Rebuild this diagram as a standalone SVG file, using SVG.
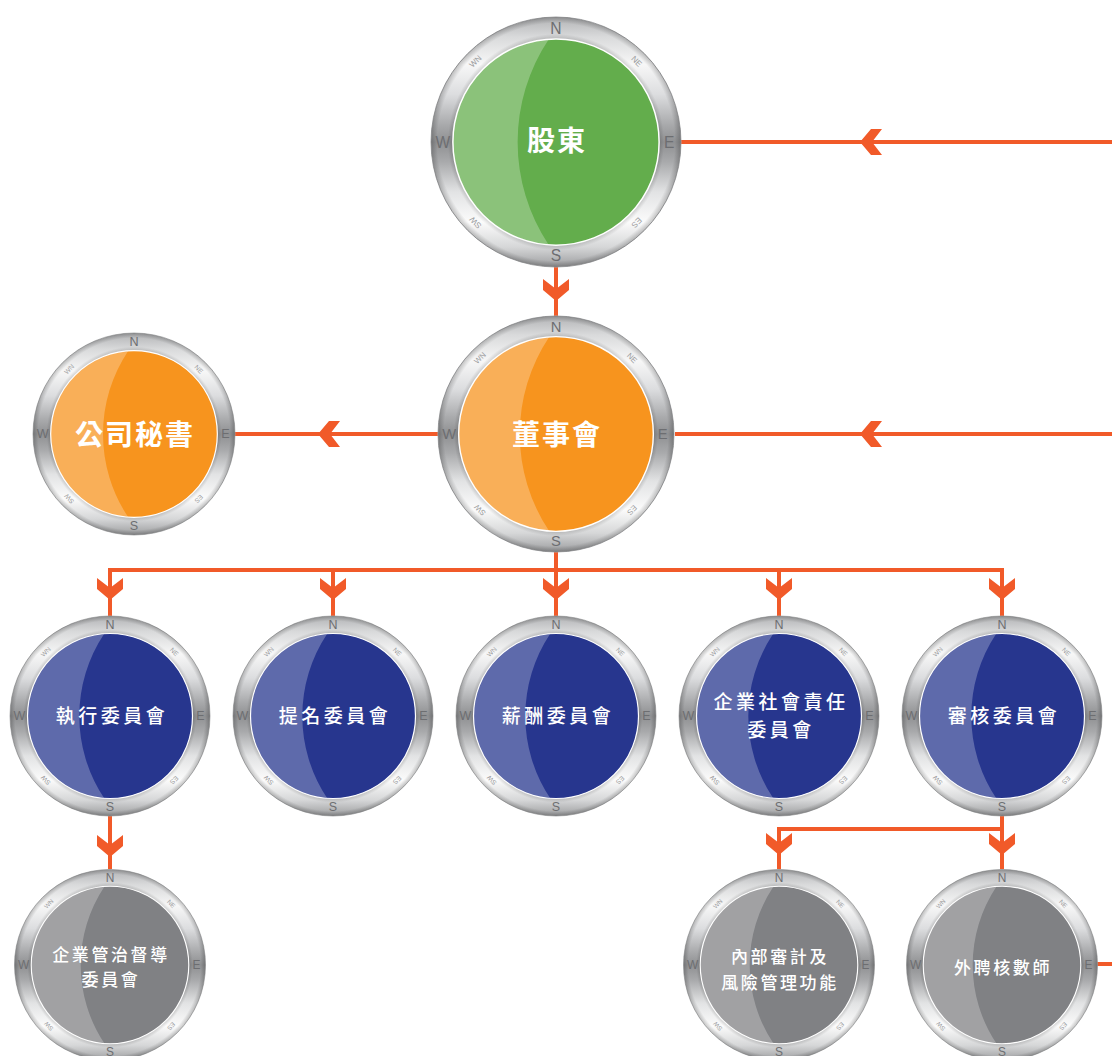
<svg xmlns="http://www.w3.org/2000/svg" xmlns:xlink="http://www.w3.org/1999/xlink" width="1112" height="1056" viewBox="0 0 1112 1056">
  <style>
    .lbl { fill: #ffffff; font-family: "Noto Sans CJK TC", "Noto Sans CJK SC", sans-serif; text-anchor: middle; dominant-baseline: central; }
    .big { font-size: 28px; font-weight: 700; letter-spacing: 2px; }
    .mid { font-size: 19px; font-weight: 500; letter-spacing: 3.5px; }
    .sm { font-size: 17px; font-weight: 500; letter-spacing: 2.6px; }
    .pt { font-family: "Liberation Sans", "Open Sans", sans-serif; font-size: 12.5px; fill: #6d6e71; text-anchor: middle; dominant-baseline: central; }
    .pt2 { font-family: "Liberation Sans", "Open Sans", sans-serif; font-size: 6.5px; fill: #9a9b9d; text-anchor: middle; dominant-baseline: central; }
    .wire { fill: none; stroke: #f15a29; stroke-width: 4; }
    .head { fill: #f15a29; }
  </style>
  <defs>
    <linearGradient id="metal" x1="0" y1="0" x2="0" y2="1">
      <stop offset="0" stop-color="#b2b3b5"/>
      <stop offset="0.08" stop-color="#d9dadb"/>
      <stop offset="0.19" stop-color="#f7f7f7"/>
      <stop offset="0.31" stop-color="#dcdddf"/>
      <stop offset="0.43" stop-color="#a9aaac"/>
      <stop offset="0.5" stop-color="#8f9092"/>
      <stop offset="0.58" stop-color="#a9aaac"/>
      <stop offset="0.7" stop-color="#e2e3e4"/>
      <stop offset="0.82" stop-color="#fbfbfb"/>
      <stop offset="0.92" stop-color="#d6d7d8"/>
      <stop offset="1" stop-color="#9c9d9f"/>
    </linearGradient>
    <radialGradient id="bevel" cx="0.5" cy="0.5" r="0.5">
      <stop offset="0.82" stop-color="#000" stop-opacity="0.18"/>
      <stop offset="0.865" stop-color="#000" stop-opacity="0"/>
      <stop offset="0.95" stop-color="#000" stop-opacity="0"/>
      <stop offset="1" stop-color="#000" stop-opacity="0.22"/>
    </radialGradient>

    <!-- compass dial, outer radius 100; disc colour comes from currentColor -->
    <g id="compass">
      <circle r="100" fill="url(#metal)" stroke="#a3a4a6" stroke-width="0.8"/>
      <circle r="100" fill="url(#bevel)"/>
      <circle r="82.5" fill="currentColor"/>
      <path d="M -5.8 -82.3 A 82.5 82.5 0 0 0 -5.8 82.3 A 148.5 148.5 0 0 1 -5.8 -82.3 Z" fill="#ffffff" fill-opacity="0.26"/>
      <circle r="82.5" fill="none" stroke="#ffffff" stroke-width="1.2"/>
      <text class="pt" x="0" y="-91">N</text>
      <text class="pt" x="0" y="91">S</text>
      <text class="pt" x="90.5" y="0">E</text>
      <text class="pt" x="-90.5" y="0">W</text>
      <text class="pt2" transform="rotate(-45) translate(0 -91)">WN</text>
      <text class="pt2" transform="rotate(45) translate(0 -91)">NE</text>
      <text class="pt2" transform="rotate(135) translate(0 -91)">ES</text>
      <text class="pt2" transform="rotate(225) translate(0 -91)">SW</text>
    </g>

    <!-- arrowheads, tip at the origin -->
    <polygon id="head-down" points="0,0 -13,-11 -13,-22 0,-12 13,-22 13,-11"/>
    <polygon id="head-left" points="0,0 11,-13 22,-13 12,0 22,13 11,13"/>
  </defs>

  <g id="connectors">
    <path class="wire" d="M681 142 H1112"/>
    <path class="wire" d="M556 266 V317"/>
    <path class="wire" d="M438 434 H234"/>
    <path class="wire" d="M675 434 H1112"/>
    <path class="wire" d="M556 552 V616 M110 616 V570 H1002 V616 M333 570 V616 M779 570 V616"/>
    <path class="wire" d="M110 816 V869"/>
    <path class="wire" d="M1002 816 V869 M1002 829 H779 V869"/>
    <path class="wire" d="M1093 964 H1112"/>
    <use href="#head-left" class="head" x="860" y="142"/>
    <use href="#head-down" class="head" x="556" y="301"/>
    <use href="#head-left" class="head" x="318" y="434"/>
    <use href="#head-left" class="head" x="860" y="434"/>
    <use href="#head-down" class="head" x="110" y="600"/>
    <use href="#head-down" class="head" x="333" y="600"/>
    <use href="#head-down" class="head" x="556" y="600"/>
    <use href="#head-down" class="head" x="779" y="600"/>
    <use href="#head-down" class="head" x="1002" y="600"/>
    <use href="#head-down" class="head" x="110" y="857"/>
    <use href="#head-down" class="head" x="779" y="855"/>
    <use href="#head-down" class="head" x="1002" y="855"/>
  </g>

  <g id="node-shareholders">
    <use href="#compass" transform="translate(556 142) scale(1.25)" style="color:#63ad4c"/>
    <text class="lbl big" x="557" y="139">股東</text>
  </g>

  <g id="node-board">
    <use href="#compass" transform="translate(556 434) scale(1.18)" style="color:#f7941e"/>
    <text class="lbl big" x="557" y="433">董事會</text>
  </g>

  <g id="node-secretary">
    <use href="#compass" transform="translate(134 434) scale(1.01)" style="color:#f7941e"/>
    <text class="lbl big" x="135" y="433">公司秘書</text>
  </g>

  <g id="node-executive">
    <use href="#compass" transform="translate(110 716)" style="color:#27368e"/>
    <text class="lbl mid" x="112" y="714">執行委員會</text>
  </g>

  <g id="node-nomination">
    <use href="#compass" transform="translate(333 716)" style="color:#27368e"/>
    <text class="lbl mid" x="335" y="714">提名委員會</text>
  </g>

  <g id="node-remuneration">
    <use href="#compass" transform="translate(556 716)" style="color:#27368e"/>
    <text class="lbl mid" x="558" y="714">薪酬委員會</text>
  </g>

  <g id="node-csr">
    <use href="#compass" transform="translate(779 716)" style="color:#27368e"/>
    <text class="lbl mid" x="781" y="700">企業社會責任</text>
    <text class="lbl mid" x="781" y="728">委員會</text>
  </g>

  <g id="node-audit">
    <use href="#compass" transform="translate(1002 716)" style="color:#27368e"/>
    <text class="lbl mid" x="1004" y="714">審核委員會</text>
  </g>

  <g id="node-governance">
    <use href="#compass" transform="translate(110 965) scale(0.955)" style="color:#808184"/>
    <text class="lbl sm" x="111" y="953">企業管治督導</text>
    <text class="lbl sm" x="111" y="978">委員會</text>
  </g>

  <g id="node-internal-audit">
    <use href="#compass" transform="translate(779 965) scale(0.955)" style="color:#808184"/>
    <text class="lbl sm" x="780" y="955">內部審計及</text>
    <text class="lbl sm" x="780" y="981">風險管理功能</text>
  </g>

  <g id="node-external-auditor">
    <use href="#compass" transform="translate(1002 965) scale(0.955)" style="color:#808184"/>
    <text class="lbl sm" x="1003" y="966">外聘核數師</text>
  </g>
</svg>
